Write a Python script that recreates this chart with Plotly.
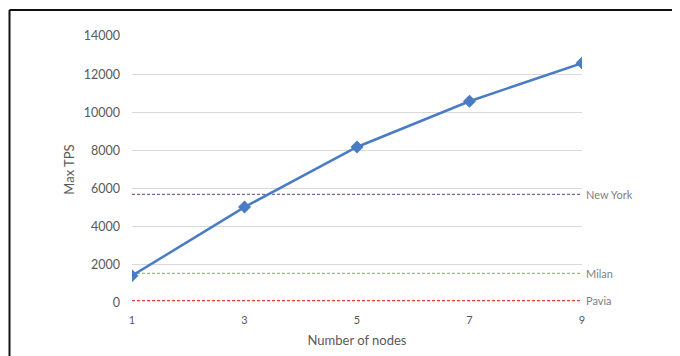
import plotly.graph_objects as go

nodes = [1, 3, 5, 7, 9]
max_tps = [1430, 5030, 8180, 10580, 12580]

ref_names = ["New York", "Milan", "Pavia"]
ref_values = [5700, 1550, 120]
ref_colors = ["#8064A2", "#9CC455", "#E0403A"]

y_ticks = [0, 2000, 4000, 6000, 8000, 10000, 12000, 14000]
x_ticks = [1, 3, 5, 7, 9]

# page body has an 8px margin, so the figure is made 8px smaller
OFF = 8
W, H = 680 - OFF, 356 - OFF
L, T = 132 - OFF, 36 - OFF
pw, ph = 450, 267
R, B = W - L - pw, H - T - ph

fig = go.Figure()

for name, val, col in zip(ref_names, ref_values, ref_colors):
    fig.add_trace(go.Scatter(
        x=[nodes[0], nodes[-1]], y=[val, val], mode="lines",
        line=dict(color=col, width=1.3, dash="3px,2px"),
        hoverinfo="skip", showlegend=False))
    fig.add_annotation(x=1, xref="paper", y=val, yref="y", text=name,
                       showarrow=False, xanchor="left", xshift=2,
                       font=dict(size=11, color="#7F7F7F"))

fig.add_trace(go.Scatter(
    x=nodes, y=max_tps, mode="lines+markers",
    line=dict(color="#4A7CC4", width=2.5),
    marker=dict(symbol="diamond", size=10, color="#4A7CC4"),
    showlegend=False))

def px2x(px):
    return (px - OFF - L) / pw

def py2y(py):
    return (H - B - (py - OFF)) / ph

border = dict(color="#111111", width=2)
fig.add_shape(type="line", xref="paper", yref="paper",
              x0=px2x(9.5), x1=px2x(700), y0=py2y(10), y1=py2y(10), line=border)
fig.add_shape(type="line", xref="paper", yref="paper",
              x0=px2x(9.5), x1=px2x(9.5), y0=py2y(10), y1=py2y(370), line=border)

fig.update_layout(
    width=W, height=H,
    margin=dict(l=L, r=R, t=T, b=B, autoexpand=False),
    paper_bgcolor="white", plot_bgcolor="white",
    font=dict(family="Lato, Open Sans, sans-serif", size=12, color="#595959"),
    xaxis=dict(range=[1, 9], tickvals=x_ticks, showgrid=False, zeroline=False,
               showline=False, ticks="", tickfont=dict(size=11),
               ticklabelstandoff=9, automargin=False,
               title=dict(text="Number of nodes", font=dict(size=13), standoff=10)),
    yaxis=dict(range=[0, 14000], tickvals=y_ticks, tickformat="d", showgrid=True,
               gridcolor="#D9D9D9", gridwidth=1, zeroline=False, showline=False,
               ticks="", ticklabelstandoff=11, tickfont=dict(size=12.5),
               automargin=False,
               title=dict(text="Max TPS", font=dict(size=13), standoff=6)),
)

fig.write_html("out.html")
